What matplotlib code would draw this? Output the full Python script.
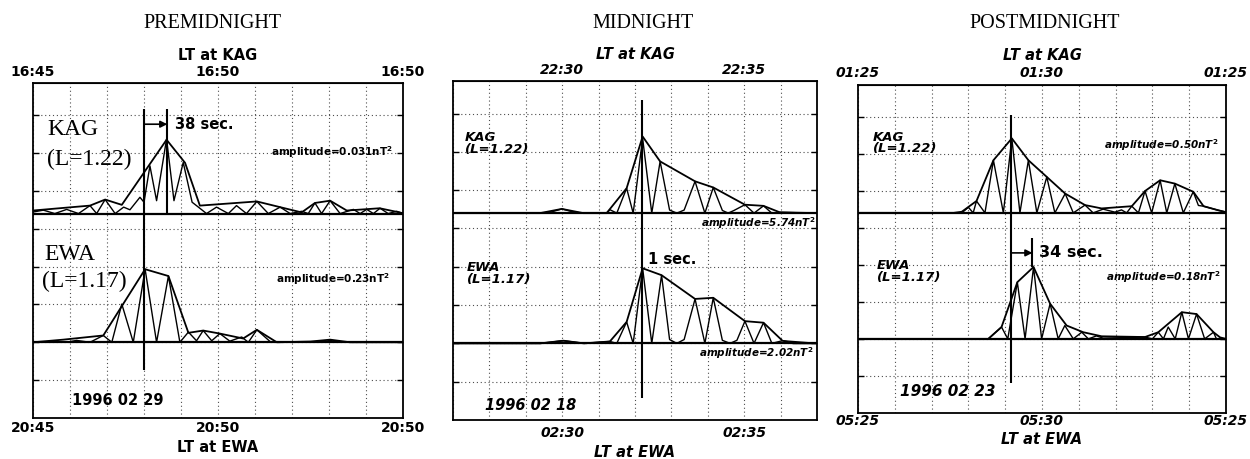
import numpy as np
import matplotlib
matplotlib.use('Agg')
import matplotlib.pyplot as plt

# ---- data (time in minutes from panel start, power in grid units) ----
KAG_BASE = 5.4
EWA_BASE = 2.0

# PREMIDNIGHT
pre_kag_env_t = [0.0, 1.54, 1.95, 2.40, 3.61, 4.11, 4.51, 6.05, 7.26, 7.62, 8.03, 8.48, 9.37, 10.0]
pre_kag_env_a = [0.08, 0.21, 0.37, 0.23, 1.95, 1.34, 0.21, 0.32, 0.03, 0.28, 0.34, 0.08, 0.14, 0.01]
pre_kag_osc_t = [0.0, 0.28, 0.59, 0.91, 1.23, 1.54, 1.72, 1.95, 2.22, 2.45,
                 2.62, 2.89, 3.0, 3.16, 3.34, 3.61, 3.81, 4.06, 4.3, 4.47,
                 4.69, 4.96, 5.28, 5.5, 5.77, 6.05, 6.36, 6.68, 6.95, 7.26,
                 7.44, 7.62, 7.8, 8.03, 8.3, 8.66, 8.84, 9.02, 9.2, 9.38,
                 9.6, 9.83, 10.0]
pre_kag_osc_a = [0.04, 0.09, 0.0, 0.11, 0.0, 0.21, 0.0, 0.37, 0.0, 0.17,
                 0.1, 0.43, 0.3, 1.26, 0.34, 1.97, 0.34, 1.35, 0.3, 0.17,
                 0.0, 0.17, 0.0, 0.21, 0.0, 0.32, 0.0, 0.17, 0.0, 0.06,
                 0.0, 0.28, 0.0, 0.34, 0.0, 0.11, 0.0, 0.11, 0.0, 0.14,
                 0.0, 0.06, 0.0]
pre_ewa_env_t = [0.0, 0.82, 1.9, 3.03, 3.66, 4.2, 4.6, 5.05, 5.68, 6.05, 6.59, 7.5, 8.03, 8.57, 10.0]
pre_ewa_env_a = [0.0, 0.07, 0.18, 1.93, 1.75, 0.25, 0.31, 0.23, 0.1, 0.33, 0.0, 0.02, 0.07, 0.0, 0.0]
pre_ewa_osc_t = [0.0, 0.9, 1.18, 1.54, 1.9, 2.13, 2.4, 2.71, 3.03, 3.34,
                 3.66, 3.97, 4.2, 4.42, 4.6, 4.83, 5.05, 5.32, 5.64, 5.82,
                 6.05, 6.43, 7.76, 8.03, 8.3, 10.0]
pre_ewa_osc_a = [0.0, 0.0, 0.05, 0.0, 0.18, 0.0, 1.01, 0.0, 1.93, 0.0,
                 1.75, 0.0, 0.27, 0.04, 0.31, 0.04, 0.23, 0.03, 0.14, 0.0,
                 0.33, 0.0, 0.0, 0.05, 0.0, 0.0]
pre_marks = [3.0, 3.63]

# MIDNIGHT
mid_kag_env_t = [0.0, 2.39, 2.99, 3.58, 4.22, 4.77, 5.21, 5.69, 6.65, 7.15, 8.02, 8.53, 8.98, 10.0]
mid_kag_env_a = [0.0, 0.0, 0.11, 0.0, 0.0, 0.65, 2.0, 1.35, 0.83, 0.67, 0.22, 0.19, 0.02, 0.0]
mid_kag_osc_t = [0.0, 2.39, 2.7, 2.99, 3.3, 3.58, 4.22, 4.31, 4.5, 4.77,
                 4.95, 5.21, 5.46, 5.69, 5.95, 6.15, 6.35, 6.65, 6.92, 7.15,
                 7.4, 7.56, 7.72, 8.02, 8.27, 8.53, 8.76, 8.98, 10.0]
mid_kag_osc_a = [0.0, 0.0, 0.03, 0.11, 0.03, 0.0, 0.0, 0.09, 0.0, 0.65,
                 0.0, 1.95, 0.0, 1.35, 0.08, 0.0, 0.08, 0.83, 0.0, 0.67,
                 0.07, 0.0, 0.07, 0.22, 0.0, 0.19, 0.0, 0.02, 0.0]
mid_ewa_env_t = [0.0, 2.4, 3.03, 3.6, 4.31, 4.77, 5.21, 5.73, 6.65, 7.15, 8.02, 8.53, 9.05, 9.35, 10.0]
mid_ewa_env_a = [0.0, 0.0, 0.07, 0.0, 0.05, 0.56, 1.96, 1.78, 1.16, 1.19, 0.58, 0.54, 0.07, 0.0, 0.0]
mid_ewa_osc_t = [0.0, 2.4, 3.03, 3.6, 4.31, 4.5, 4.77, 4.95, 5.21, 5.46,
                 5.73, 5.95, 6.15, 6.35, 6.65, 6.92, 7.15, 7.4, 7.61, 7.8,
                 8.02, 8.27, 8.53, 8.76, 9.05, 10.0]
mid_ewa_osc_a = [0.0, 0.0, 0.07, 0.0, 0.05, 0.0, 0.56, 0.0, 1.96, 0.0,
                 1.78, 0.1, 0.0, 0.1, 1.16, 0.0, 1.19, 0.08, 0.0, 0.08,
                 0.58, 0.0, 0.54, 0.0, 0.07, 0.0]
mid_marks = [5.19]

# POSTMIDNIGHT
post_kag_env_t = [0.0, 2.6, 2.82, 3.22, 3.68, 4.18, 4.63, 5.13, 5.63, 6.17,
                  6.62, 7.44, 7.8, 8.21, 8.61, 9.11, 9.39, 9.79, 10.0]
post_kag_env_a = [0.0, 0.0, 0.03, 0.32, 1.42, 2.01, 1.42, 0.97, 0.52, 0.21,
                  0.12, 0.18, 0.59, 0.88, 0.79, 0.57, 0.18, 0.07, 0.02]
post_kag_osc_t = [0.0, 2.82, 3.0, 3.13, 3.22, 3.45, 3.68, 3.95, 4.18, 4.4,
                  4.63, 4.86, 5.13, 5.35, 5.63, 5.85, 6.17, 6.39, 6.66, 6.98,
                  7.16, 7.3, 7.44, 7.62, 7.8, 7.98, 8.21, 8.39, 8.61, 8.84,
                  9.11, 9.25, 9.39, 9.79, 10.0]
post_kag_osc_a = [0.0, 0.0, 0.15, 0.0, 0.32, 0.0, 1.42, 0.0, 2.01, 0.0,
                  1.42, 0.0, 0.97, 0.0, 0.52, 0.0, 0.21, 0.0, 0.1, 0.02,
                  0.08, 0.0, 0.18, 0.0, 0.59, 0.0, 0.88, 0.0, 0.79, 0.0,
                  0.57, 0.2, 0.18, 0.07, 0.02]
post_ewa_env_t = [0.0, 3.54, 3.9, 4.33, 4.77, 5.22, 5.67, 6.12, 6.62, 7.8, 8.16, 8.8, 9.2, 9.66, 9.84, 10.0]
post_ewa_env_a = [0.0, 0.0, 0.32, 1.53, 1.94, 0.95, 0.36, 0.18, 0.07, 0.05, 0.18, 0.72, 0.67, 0.18, 0.04, 0.0]
post_ewa_osc_t = [0.0, 3.54, 3.9, 4.07, 4.33, 4.54, 4.77, 4.99, 5.22, 5.44,
                  5.62, 5.85, 6.08, 6.26, 6.48, 6.66, 7.8, 8.0, 8.16, 8.3,
                  8.43, 8.62, 8.8, 8.98, 9.2, 9.42, 9.66, 9.74, 10.0]
post_ewa_osc_a = [0.0, 0.0, 0.32, 0.0, 1.53, 0.0, 1.94, 0.0, 0.95, 0.0,
                  0.36, 0.0, 0.18, 0.0, 0.08, 0.02, 0.05, 0.0, 0.18, 0.0,
                  0.32, 0.0, 0.72, 0.0, 0.67, 0.0, 0.18, 0.0, 0.0]
post_marks = [4.15, 4.74]

# tick labels
pre_tick_pos = [0, 5, 10]
pre_top_labels = ['16:45', '16:50', '16:50']
pre_bot_labels = ['20:45', '20:50', '20:50']
mid_tick_pos = [3, 8]
mid_top_labels = ['22:30', '22:35']
mid_bot_labels = ['02:30', '02:35']
post_tick_pos = [0, 5, 10]
post_top_labels = ['01:25', '01:30', '01:25']
post_bot_labels = ['05:25', '05:30', '05:25']

titles = ['PREMIDNIGHT', 'MIDNIGHT', 'POSTMIDNIGHT']
dates = ['1996 02 29', '1996 02 18', '1996 02 23']
kag_amps = ['0.031', '5.74', '0.50']
ewa_amps = ['0.23', '2.02', '0.18']

SANS = 'DejaVu Sans'
SERIF = 'Liberation Serif'


def setup_axes(ax, tick_pos, top_labels, bot_labels, style, top_pad, bot_pad, top_lpad, bot_lpad):
    ax.set_xlim(0, 10)
    ax.set_ylim(0, 8.85)
    grid = np.arange(0, 11)
    labels = ['' for _ in grid]
    tlabels = ['' for _ in grid]
    for p, b, t in zip(tick_pos, bot_labels, top_labels):
        labels[p] = b
        tlabels[p] = t
    ax.set_xticks(grid)
    ax.set_xticklabels(labels, fontsize=10, fontweight='bold', fontstyle=style, family=SANS)
    ax.tick_params(axis='x', length=0, pad=bot_pad)
    ax.set_yticks(np.arange(1, 9))
    ax.set_yticklabels([])
    ax.tick_params(axis='y', direction='in', length=4, width=1, left=True, right=True)
    ax.grid(True, linestyle=(0, (1, 2.5)), color='0.3', linewidth=0.8)
    for s in ax.spines.values():
        s.set_linewidth(1.3)

    top = ax.secondary_xaxis('top')
    top.set_xticks(grid)
    top.set_xticklabels(tlabels, fontsize=10, fontweight='bold', fontstyle=style, family=SANS)
    top.tick_params(axis='x', length=0, pad=top_pad)
    top.set_xlabel('LT at KAG', fontsize=10.5, fontweight='bold', fontstyle=style,
                   family=SANS, labelpad=top_lpad)
    ax.set_xlabel('LT at EWA', fontsize=10.5, fontweight='bold', fontstyle=style,
                  family=SANS, labelpad=bot_lpad)


def draw_traces(ax, kag_env, kag_osc, ewa_env, ewa_osc):
    ax.axhline(KAG_BASE, color='k', lw=1.6)
    ax.axhline(EWA_BASE, color='k', lw=1.6)
    for (t, a), base in [(kag_env, KAG_BASE), (ewa_env, EWA_BASE)]:
        ax.plot(t, base + np.array(a), color='k', lw=1.3)
    for (t, a), base in [(kag_osc, KAG_BASE), (ewa_osc, EWA_BASE)]:
        ax.plot(t, base + np.array(a), color='k', lw=1.0)


fig = plt.figure(figsize=(12.5, 4.59), dpi=100)
ax1 = fig.add_axes([0.0264, 0.0893, 0.296, 0.730])
ax2 = fig.add_axes([0.3624, 0.0850, 0.2912, 0.7386])
ax3 = fig.add_axes([0.6864, 0.1002, 0.2944, 0.7146])

setup_axes(ax1, pre_tick_pos, pre_top_labels, pre_bot_labels, 'normal', 2.5, 2.5, 4, 3)
setup_axes(ax2, mid_tick_pos, mid_top_labels, mid_bot_labels, 'italic', 2.5, 4.5, 3, 3.5)
setup_axes(ax3, post_tick_pos, post_top_labels, post_bot_labels, 'italic', 3.5, 0.5, 4.5, 3)

draw_traces(ax1, (pre_kag_env_t, pre_kag_env_a), (pre_kag_osc_t, pre_kag_osc_a),
            (pre_ewa_env_t, pre_ewa_env_a), (pre_ewa_osc_t, pre_ewa_osc_a))
draw_traces(ax2, (mid_kag_env_t, mid_kag_env_a), (mid_kag_osc_t, mid_kag_osc_a),
            (mid_ewa_env_t, mid_ewa_env_a), (mid_ewa_osc_t, mid_ewa_osc_a))
draw_traces(ax3, (post_kag_env_t, post_kag_env_a), (post_kag_osc_t, post_kag_osc_a),
            (post_ewa_env_t, post_ewa_env_a), (post_ewa_osc_t, post_ewa_osc_a))

# onset markers and delays
ax1.vlines(pre_marks[0], 1.26, 8.15, color='k', lw=1.5)
ax1.vlines(pre_marks[1], KAG_BASE, 8.15, color='k', lw=1.5)
ax1.annotate('', xy=(pre_marks[1], 7.76), xytext=(pre_marks[0], 7.76),
             arrowprops=dict(arrowstyle='-|>', color='k', lw=1.2, mutation_scale=10,
                             shrinkA=0, shrinkB=0))
ax1.text(3.84, 7.76, '38 sec.', fontsize=10.5, fontweight='bold', family=SANS, va='center')

ax2.vlines(mid_marks[0], 0.57, 8.36, color='k', lw=1.5)
ax2.text(5.36, 4.18, '1 sec.', fontsize=10.5, fontweight='bold', family=SANS, va='center')

ax3.vlines(post_marks[0], 0.8, 8.03, color='k', lw=1.5)
ax3.vlines(post_marks[1], 3.95, 4.72, color='k', lw=1.5)
ax3.annotate('', xy=(post_marks[1], 4.32), xytext=(post_marks[0], 4.32),
             arrowprops=dict(arrowstyle='-|>', color='k', lw=1.2, mutation_scale=10,
                             shrinkA=0, shrinkB=0))
ax3.text(4.93, 4.32, '34 sec.', fontsize=11.5, fontweight='bold', family=SANS, va='center')

# station labels
ax1.text(0.38, 7.62, 'KAG', fontsize=17, family=SERIF, va='center')
ax1.text(0.37, 6.83, '(L=1.22)', fontsize=17, family=SERIF, va='center')
ax1.text(0.32, 4.32, 'EWA', fontsize=17, family=SERIF, va='center')
ax1.text(0.23, 3.61, '(L=1.17)', fontsize=17, family=SERIF, va='center')
for ax, ky, ey, kx, ex in [(ax2, 7.22, 3.82, 0.33, 0.38),
                           (ax3, 7.28, 3.82, 0.41, 0.52)]:
    ax.text(kx, ky, 'KAG\n(L=1.22)', fontsize=9.5, fontweight='bold', fontstyle='italic',
            family=SANS, va='center', linespacing=0.85)
    ax.text(ex, ey, 'EWA\n(L=1.17)', fontsize=9.5, fontweight='bold', fontstyle='italic',
            family=SANS, va='center', linespacing=0.85)

# amplitude labels
amp_pos = [((9.73, 7.02), (9.65, 3.66), 'normal'),
           ((9.95, 5.14), (9.89, 1.75), 'italic'),
           ((9.78, 7.22), (9.84, 3.68), 'italic')]
for ax, ka, ea, (kp, ep, st) in zip([ax1, ax2, ax3], kag_amps, ewa_amps, amp_pos):
    ax.text(kp[0], kp[1], 'amplitude=' + ka + r'nT$^\mathbf{2}$', fontsize=7.5, fontweight='bold',
            fontstyle=st, family=SANS, ha='right', va='center')
    ax.text(ep[0], ep[1], 'amplitude=' + ea + r'nT$^\mathbf{2}$', fontsize=7.5, fontweight='bold',
            fontstyle=st, family=SANS, ha='right', va='center')

# dates
ax1.text(1.05, 0.47, dates[0], fontsize=10.5, fontweight='bold', family=SANS, va='center')
ax2.text(0.88, 0.39, dates[1], fontsize=10.5, fontweight='bold', fontstyle='italic', family=SANS, va='center')
ax3.text(1.14, 0.57, dates[2], fontsize=11, fontweight='bold', fontstyle='italic', family=SANS, va='center')

# panel titles
for x, title in zip([212, 643, 1045], titles):
    fig.text(x / 1250, 1 - 23 / 459, title, fontsize=14.5, family=SERIF, ha='center', va='center')

fig.savefig('out.png', dpi=100)
